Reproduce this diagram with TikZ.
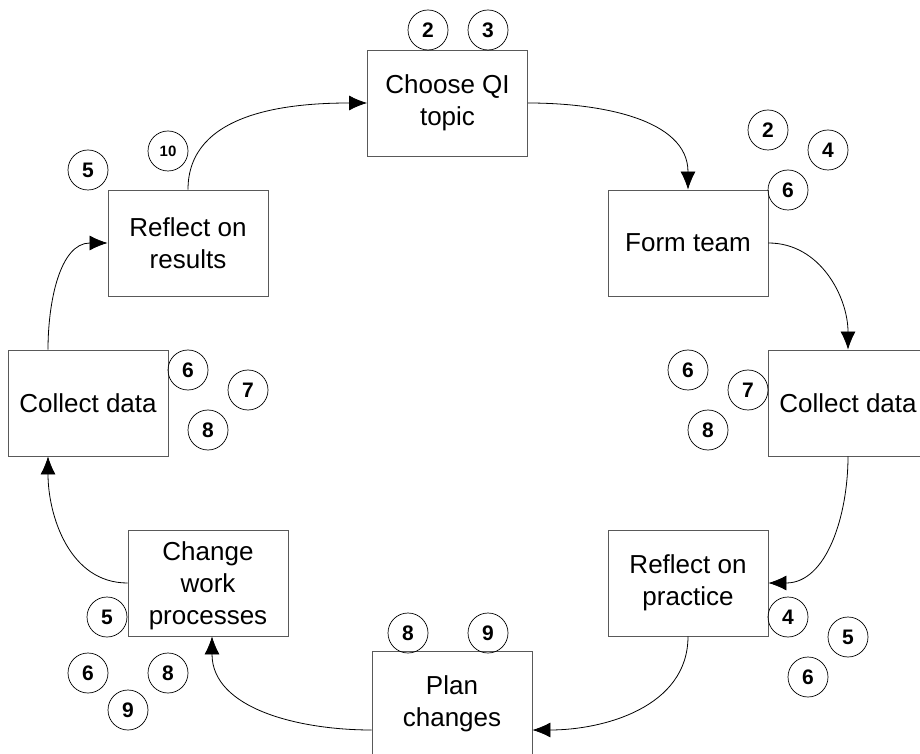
\documentclass[tikz,border=0pt]{standalone}
\usepackage{fontspec}
\setmainfont{Liberation Sans}
\usetikzlibrary{arrows.meta}

\begin{document}
\begin{tikzpicture}[x=1pt, y=1pt, >={Latex[length=18pt, width=15pt]},
		stage/.style={draw=black!65, line width=0.9pt, minimum width=160pt, minimum height=106pt,
			inner sep=0pt, align=center, font=\fontsize{26}{32}\selectfont},
		num/.style={circle, draw, line width=0.7pt, minimum size=40pt, inner sep=0pt,
			font=\fontsize{21}{21}\selectfont\bfseries}]
	\useasboundingbox (0,0) rectangle (920,753);
	\node[stage] (topic) at (447.5,650) {Choose QI\\topic};
	\node[stage] (team) at (688,510) {Form team};
	\node[stage] (dataR) at (848,350) {Collect data};
	\node[stage] (practice) at (688,170) {Reflect on\\practice};
	\node[stage] (plan) at (452,49) {Plan\\changes};
	\node[stage, text depth=-8pt] (change) at (208,170) {Change\\work\\processes};
	\node[stage] (dataL) at (88,350) {Collect data};
	\node[stage] (results) at (188,510) {Reflect on\\results};
	\foreach \nm/\x/\y/\n in {t2/428/723/2, t3/488/723/3,
			f2/768/623/2, f4/828/603/4, f6/788/563/6,
			cr6/688/383/6, cr7/748/363/7, cr8/708/323/8,
			p4/788/136/4, p5/848/116/5, p6/808/76/6,
			pl8/408/120/8, pl9/488/120/9,
			w5/107/136/5, w6/88/80/6, w8/168/80/8, w9/128/43/9,
			cl6/188/383/6, cl7/248/363/7, cl8/208/323/8,
			r5/88/583/5}
		\node[num] (\nm) at (\x,\y) {\n};
	\node[num, font=\fontsize{15}{15}\selectfont\bfseries] (r10) at (168,602) {10};
	\draw[->, line width=0.8pt] (results.north) to[out=90, in=180] (topic.west);
	\draw[->, line width=0.8pt] (topic.east) to[out=0, in=90] (team.north);
	\draw[->, line width=0.8pt] (team.east) to[out=0, in=90] (dataR.north);
	\draw[->, line width=0.8pt] (dataR.south) to[out=-90, in=0] (practice.east);
	\draw[->, line width=0.8pt] (practice.south) to[out=-90, in=0] ([yshift=-26pt]plan.east);
	\draw[->, line width=0.8pt] ([yshift=-26pt]plan.west) to[out=180, in=-90] ([xshift=4pt]change.south);
	\draw[->, line width=0.8pt] (change.west) to[out=180, in=-90] ([xshift=-40pt]dataL.south);
	\draw[->, line width=0.8pt] ([xshift=-40pt]dataL.north) to[out=90, in=180] (results.west);
\end{tikzpicture}
\end{document}
